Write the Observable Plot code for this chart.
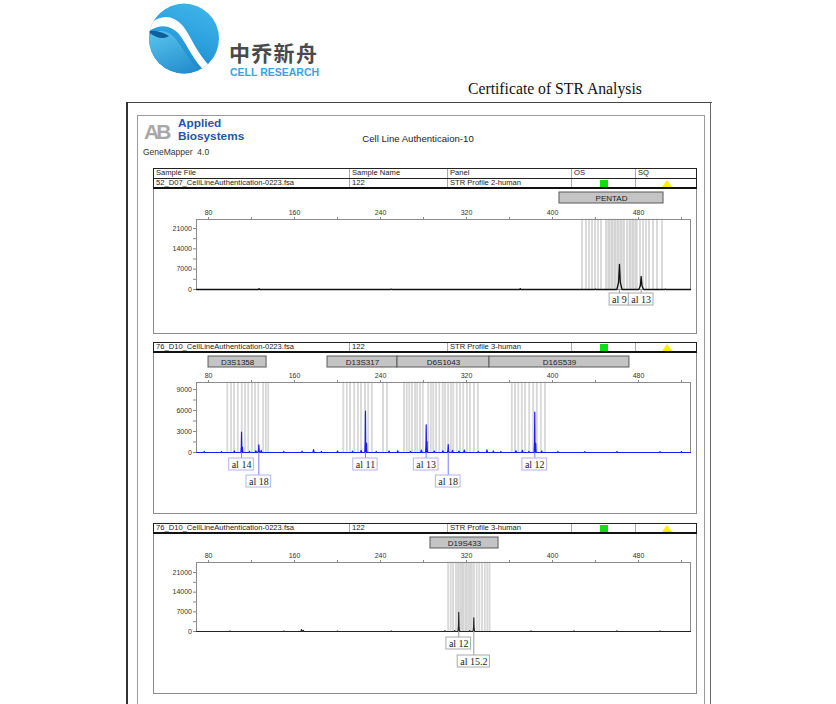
<!DOCTYPE html>
<html><head><meta charset="utf-8">
<script src="https://cdn.jsdelivr.net/npm/d3@7"></script>
<script src="https://cdn.jsdelivr.net/npm/@observablehq/plot@0.6"></script>
<style>
body{margin:0;width:836px;height:704px;position:relative;overflow:hidden;background:#fff;font-family:"Liberation Sans",Arial,sans-serif;}
.abs{position:absolute;}
.box{position:absolute;border:1px solid #8c8c8c;box-sizing:border-box;}
.row{position:absolute;left:153px;width:544px;height:11px;box-sizing:border-box;border:1px solid #222;font-size:7.6px;color:#222;}
.cell{position:absolute;top:0;height:100%;box-sizing:border-box;padding-left:2px;line-height:8.5px;border-left:1px solid #aaa;white-space:nowrap;}
.plot{position:absolute;left:153px;}
.plot svg{overflow:visible;background:transparent;}
</style></head><body>

<svg class="abs" style="left:145px;top:0px" width="80" height="80">
<defs>
<linearGradient id="lg" x1="0.7" y1="0" x2="0.3" y2="1"><stop offset="0" stop-color="#3fb4ea"/><stop offset="0.5" stop-color="#2a9fdc"/><stop offset="1" stop-color="#1a7fc4"/></linearGradient>
<linearGradient id="lg2" x1="0" y1="0" x2="0.6" y2="1"><stop offset="0" stop-color="#5cc6ef"/><stop offset="1" stop-color="#1b86c8"/></linearGradient>
<clipPath id="cc"><circle cx="39" cy="38.5" r="35"/></clipPath>
</defs>
<circle cx="39" cy="38.5" r="35" fill="url(#lg)"/>
<g clip-path="url(#cc)">
<path d="M0 40 C8 30 18 28 28 36 C36 44 42 58 52 68 C58 74 66 76 80 74 L80 80 L0 80 Z" fill="url(#lg2)"/>
<path d="M3 31 C10 38 18 40 24 36 C18 32 10 30 3 31 Z" fill="#0e5f9c"/>
<path d="M2 26 Q22 8 38 26 C46 36 53 56 66 67 L61 72 C49 62 43 46 34 34 Q21 20 4 31 Z" fill="#fff"/>
</g>
</svg>
<div class="abs" style="left:229px;top:37px;font-family:'Noto Sans CJK SC';font-weight:bold;font-size:21px;color:#4a4a4a;letter-spacing:1.3px;">中乔新舟</div>
<div class="abs" style="left:230px;top:66px;font-weight:bold;font-size:10.5px;color:#3aa3dc;">CELL RESEARCH</div>
<div class="abs" style="left:468px;top:80px;font-family:'Liberation Serif',serif;font-size:15.7px;color:#111;">Certificate of STR Analysis</div>

<div class="abs" style="left:127px;top:102px;width:585px;height:0;border-top:1.5px solid #444;"></div>
<div class="abs" style="left:126px;top:102px;width:2px;height:602px;background:#333;"></div>
<div class="abs" style="left:710px;top:102px;width:1px;height:602px;background:#666;"></div>
<div class="abs" style="left:137px;top:115px;width:568px;height:600px;border:1px solid #9a9a9a;box-sizing:border-box;"></div>

<div class="abs" style="left:144px;top:120px;font-weight:bold;font-size:21px;color:#a8a8a8;letter-spacing:-3px;">AB</div>
<div class="abs" style="left:178px;top:117px;font-weight:bold;font-size:11.8px;color:#2456a6;line-height:13px;">Applied</div>
<div class="abs" style="left:178px;top:130px;font-weight:bold;font-size:11.8px;color:#2456a6;line-height:13px;">Biosystems</div>
<div class="abs" style="left:143px;top:147px;font-size:8.5px;color:#333;">GeneMapper&nbsp; 4.0</div>
<div class="abs" style="left:318px;top:133px;width:200px;text-align:center;font-size:9.6px;color:#222;">Cell Line Authenticaion-10</div>

<div class="box" style="left:153px;top:168px;width:544px;height:166px;"></div>
<div class="box" style="left:153px;top:342px;width:544px;height:172px;"></div>
<div class="box" style="left:153px;top:523px;width:544px;height:171px;"></div>

<div id="p1" class="plot" style="top:188px"></div>
<div id="p2" class="plot" style="top:352px"></div>
<div id="p3" class="plot" style="top:533px"></div>

<script>
// ---------- table data ----------
const headerCols = ["Sample File","Sample Name","Panel","OS","SQ"];
const sampleFiles = ["52_D07_CellLineAuthentication-0223.fsa","76_D10_CellLineAuthentication-0223.fsa","76_D10_CellLineAuthentication-0223.fsa"];
const sampleNames = ["122","122","122"];
const panelNames = ["STR Profile 2-human","STR Profile 3-human","STR Profile 3-human"];

// ---------- electropherogram data (bp, RFU) ----------
const xTicks = [80,160,240,320,400,480];
const xMinor = [120,200,280,360,440,520];

// panel 1
const markers1 = ["PENTAD"], markers1Start = [406.5], markers1End = [503.3];
const bins1 = [427.9,431.6,434.4,437.2,440.0,442.8,445.6,450.2,453.0,455.8,458.6,461.4,464.2,467.0,469.8,472.6,475.3,478.1,481.9,484.7,487.4,490.2,494.0,497.7,502.3];
const shade1Start = [451,471], shade1End = [467,480];
const peaks1Pos = [462.3,482.5], peaks1Height = [8600,4470], peaks1Width = [2.4,2.2];
const noise1Pos = [127,250,370,440,505], noise1Height = [300,120,300,150,150];
const alleles1 = ["al 9","al 13"], alleles1Pos = [462.3,482.5], alleles1Row = [1,1];
const yTicks1 = [0,7000,14000,21000], yMinor1 = [3500,10500,17500];

// panel 2
const markers2 = ["D3S1358","D13S317","D6S1043","D16S539"];
const markers2Start = [80,190.7,255.8,341.4], markers2End = [134,255.8,341.4,471.6];
const bins2 = [98.0,101.4,104.2,107.6,111.3,114.4,117.5,120.7,123.7,126.8,131.4,133.7,136.1,
  205.9,209.0,212.1,216.1,219.3,222.3,226.0,229.1,232.3,242.8,246.5,
  262.3,264.8,267.3,269.8,272.6,274.7,277.2,279.7,284.9,287.2,289.6,292.1,295.2,298.3,300.7,303.5,305.8,308.2,311.3,314.4,317.5,320.7,323.7,327.4,330.9,
  362.5,365.6,368.7,371.8,374.9,378.9,382.6,385.8,389.5,393.5];
const shade2Start = [], shade2End = [];
const peaks2Pos = [110.7,111.6,126.8,226.0,227.0,282.5,283.3,303.0,383.5,384.4];
const peaks2Height = [2900,750,1100,5900,1300,3960,1570,1140,5760,1300];
const peaks2Width = [0.6,0.5,0.8,0.6,0.5,0.6,0.5,0.8,0.6,0.5];
const noise2Pos = [76,92,104,118,124,129,150,167,177.7,185,200,214,222,236,248,256,268,278,290,298,307,313,318,331,339,345,352,366,372,378,390,405,430,460,500,520];
const noise2Height = [150,120,200,150,250,300,150,180,400,150,200,180,300,150,200,250,150,350,200,250,300,200,350,150,380,200,150,250,300,150,200,150,120,150,120,130];
const alleles2 = ["al 14","al 18","al 11","al 13","al 18","al 12"];
const alleles2Pos = [110.7,126.8,226.0,282.5,303.0,383.5], alleles2Row = [1,2,1,1,2,1];
const yTicks2 = [0,3000,6000,9000], yMinor2 = [1500,4500,7500];

// panel 3
const markers3 = ["D19S433"], markers3Start = [286.5], markers3End = [349.8];
const bins3 = [303.5,305.7,308.1,310.6,312.8,315.0,317.4,319.9,322.4,324.9,327.4,329.9,332.4,334.9,337.4,339.9,341.9];
const shade3Start = [312.2], shade3End = [326.8];
const peaks3Pos = [312.8,326.8], peaks3Height = [6870,4870], peaks3Width = [0.7,0.7];
const noise3Pos = [100,150,166.5,168.2,200,250,300,309,323,380,420,460,500], noise3Height = [150,150,700,400,150,150,300,300,300,200,200,200,150];
const alleles3 = ["al 12","al 15.2"], alleles3Pos = [312.8,326.8], alleles3Row = [1,2];
const yTicks3 = [0,7000,14000,21000], yMinor3 = [3500,10500,17500];

// ---------- table rows ----------
const colEdges = [0,195,293,417,481,544];
function addRow(top, texts, thickBottom, icons){
  const r = document.createElement("div");
  r.className = "row"; r.style.top = top + "px";
  if (thickBottom) r.style.borderBottom = "2px solid #111";
  texts.forEach((t,i)=>{
    const c = document.createElement("div");
    c.className = "cell";
    c.style.left = colEdges[i] + "px";
    c.style.width = (colEdges[i+1]-colEdges[i]) + "px";
    if (i===0) c.style.borderLeft = "none";
    c.textContent = t;
    r.appendChild(c);
  });
  if (icons){
    const sq = document.createElement("div");
    sq.style.cssText = "position:absolute;left:446px;top:1px;width:8px;height:7px;background:#11dd11;";
    r.appendChild(sq);
    const tri = document.createElement("div");
    tri.style.cssText = "position:absolute;left:508px;top:1px;width:0;height:0;border-left:5px solid transparent;border-right:5px solid transparent;border-bottom:7px solid #ffee00;";
    r.appendChild(tri);
  }
  document.body.appendChild(r);
}
addRow(168, headerCols, false, false);
addRow(178, [sampleFiles[0], sampleNames[0], panelNames[0], "", ""], true, true);
addRow(342, [sampleFiles[1], sampleNames[1], panelNames[1], "", ""], true, true);
addRow(523, [sampleFiles[2], sampleNames[2], panelNames[2], "", ""], true, true);

// ---------- plots ----------
const W = 544, ML = 43, MR = 7;
const xDomain = [68.8, 528.4];
const pxPerBp = (W-ML-MR)/(xDomain[1]-xDomain[0]);
const ctx = document.createElement("canvas").getContext("2d");
ctx.font = "10px 'Liberation Serif'";
const measure = t => ctx.measureText(t).width;

function buildTrace(pos, h, w, npos, nh){
  const pts = [{x:xDomain[0], y:0}, {x:xDomain[1], y:0}];
  pos.forEach((p,i)=>{
    pts.push({x:p-w[i],y:0},{x:p-w[i]*0.35,y:h[i]*0.28},{x:p,y:h[i]},{x:p+w[i]*0.35,y:h[i]*0.28},{x:p+w[i],y:0});
  });
  npos.forEach((p,i)=>{
    pts.push({x:p-0.6,y:0},{x:p,y:nh[i]},{x:p+0.6,y:0});
  });
  return pts.sort((a,b)=>a.x-b.x);
}

function panel(o){
  const H = o.mt + o.ph + o.mb;
  const per = o.ymax / o.ph;
  const above = px => o.ymax + px*per;
  const below = px => -px*per;
  const trace = buildTrace(o.peaks, o.heights, o.widths, o.npos, o.nh);
  const al = o.alleles.map((t,i)=>({t, x:o.aPos[i], row:o.aRow[i], w:(measure(t)+5)/pxPerBp}));
  const rowTop = r => r===1 ? o.r1 : o.r2;
  const mk = o.markers.map((t,i)=>({t, a:o.mStart[i], b:o.mEnd[i]}));
  const sh = o.shadeS.map((s,i)=>({a:s, b:o.shadeE[i]}));
  return Plot.plot({
    width: W, height: H, marginLeft: ML, marginRight: MR, marginTop: o.mt, marginBottom: o.mb,
    x: {domain: xDomain, axis: null, label: null},
    y: {domain: [0, o.ymax], axis: null, label: null},
    style: {fontFamily: "'Liberation Sans', Arial, sans-serif", background: "transparent", overflow: "visible"},
    marks: [
      Plot.rect(sh, {x1:"a", x2:"b", y1:0, y2:o.ymax, fill:"#e2e2e2"}),
      Plot.rect(o.bins, {x1:d=>d-0.45, x2:d=>d+0.45, y1:0, y2:o.ymax, fill:"#ececec", stroke:"#c8c8c8", strokeWidth:0.6}),
      Plot.frame({stroke:"#8c8c8c"}),
      Plot.axisX({anchor:"top", label:null, ticks:xTicks, tickSize:3, tickPadding:1.5, fontSize:7, stroke:"#888", fill:"#333"}),
      Plot.axisX({anchor:"top", label:null, ticks:xMinor, tickSize:3, tickFormat:()=>"", stroke:"#888"}),
      Plot.axisY({label:null, ticks:o.yTicks, tickSize:3, tickPadding:1.5, fontSize:7, tickFormat:d=>String(d), stroke:"#888", fill:"#333"}),
      Plot.axisY({label:null, ticks:o.yMinor, tickSize:3, tickFormat:()=>"", stroke:"#888"}),
      Plot.line(trace, {x:"x", y:"y", stroke:o.color, strokeWidth:o.sw}),
      Plot.rect(mk, {x1:"a", x2:"b", y1:above(o.m1), y2:above(o.m2), fill:"#c4c4c4", stroke:"#5a5a5a", strokeWidth:1}),
      Plot.text(mk, {x:d=>(d.a+d.b)/2, y:above((o.m1+o.m2)/2), text:"t", fontSize:8, fill:"#222"}),
      Plot.ruleX(al, {x:"x", y1:0, y2:d=>below(rowTop(d.row)), stroke:o.link, strokeWidth:1}),
      Plot.rect(al, {x1:d=>d.x-d.w/2, x2:d=>d.x+d.w/2, y1:d=>below(rowTop(d.row)), y2:d=>below(rowTop(d.row)+12), fill:"#fff", stroke:o.boxStroke, strokeWidth:1}),
      Plot.text(al, {x:"x", y:d=>below(rowTop(d.row)+6.5), text:"t", fontSize:10, fontFamily:"'Liberation Serif', serif", fill:"#222"})
    ]
  });
}

document.getElementById("p1").appendChild(panel({
  mt:31, ph:70, mb:22, ymax:24100, yTicks:yTicks1, yMinor:yMinor1,
  bins:bins1, shadeS:shade1Start, shadeE:shade1End,
  peaks:peaks1Pos, heights:peaks1Height, widths:peaks1Width, npos:noise1Pos, nh:noise1Height,
  color:"#111", sw:1.3,
  markers:markers1, mStart:markers1Start, mEnd:markers1End, m1:16, m2:27,
  alleles:alleles1, aPos:alleles1Pos, aRow:alleles1Row, r1:4, r2:21, link:"#999", boxStroke:"#aaa"
}));
document.getElementById("p2").appendChild(panel({
  mt:30, ph:70, mb:40, ymax:10000, yTicks:yTicks2, yMinor:yMinor2,
  bins:bins2, shadeS:shade2Start, shadeE:shade2End,
  peaks:peaks2Pos, heights:peaks2Height, widths:peaks2Width, npos:noise2Pos, nh:noise2Height,
  color:"#1a1aff", sw:1.2,
  markers:markers2, mStart:markers2Start, mEnd:markers2End, m1:15, m2:26,
  alleles:alleles2, aPos:alleles2Pos, aRow:alleles2Row, r1:6, r2:23, link:"#7a7aff", boxStroke:"#b4b4f0"
}));
document.getElementById("p3").appendChild(panel({
  mt:29, ph:69, mb:40, ymax:24560, yTicks:yTicks3, yMinor:yMinor3,
  bins:bins3, shadeS:shade3Start, shadeE:shade3End,
  peaks:peaks3Pos, heights:peaks3Height, widths:peaks3Width, npos:noise3Pos, nh:noise3Height,
  color:"#222", sw:1.1,
  markers:markers3, mStart:markers3Start, mEnd:markers3End, m1:14, m2:25,
  alleles:alleles3, aPos:alleles3Pos, aRow:alleles3Row, r1:6, r2:24, link:"#999", boxStroke:"#aaa"
}));
</script>
</body></html>
